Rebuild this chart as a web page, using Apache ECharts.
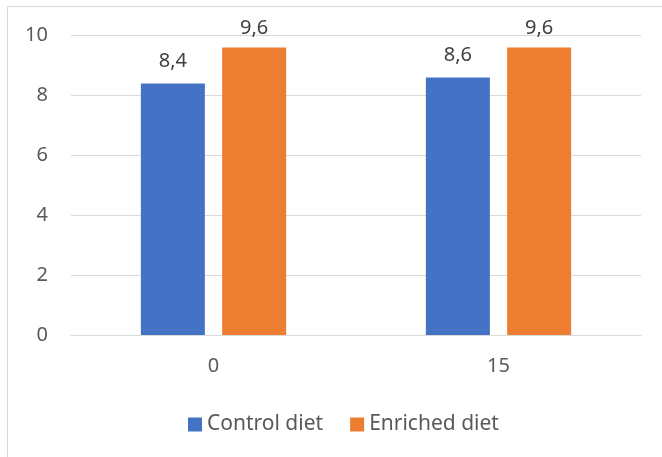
<!DOCTYPE html>
<html>
<head>
<meta charset="utf-8">
<script src="https://cdn.jsdelivr.net/npm/echarts@6/dist/echarts.min.js"></script>
<style>
  html, body { margin: 0; padding: 0; background: #ffffff; }
  #chart { width: 662px; height: 457px; }
</style>
</head>
<body>
<div id="chart"></div>
<script>
// Days on diet (x categories)
const categories = ['0', '15'];
// Series values
const controlDiet = [8.4, 8.6];
const enrichedDiet = [9.6, 9.6];
// Y axis range
const yMin = 0;
const yMax = 10;
const yStep = 2;

const FONT = 'Noto Sans';
const commaFmt = p => String(p.value).replace('.', ',');

const chart = echarts.init(document.getElementById('chart'), null, { renderer: 'canvas' });
chart.setOption({
  backgroundColor: '#ffffff',
  animation: false,
  textStyle: { fontFamily: FONT },
  graphic: [{
    type: 'rect',
    shape: { x: 7.5, y: 6.5, width: 700, height: 500 },
    style: { fill: 'none', stroke: '#d9d9d9', lineWidth: 1 },
    silent: true
  }],
  grid: { left: 71, right: 21, top: 35.5, bottom: 122, containLabel: false },
  legend: {
    bottom: 22,
    left: 188,
    padding: 0,
    itemWidth: 14,
    itemHeight: 14,
    itemGap: 27,
    icon: 'rect',
    textStyle: { fontFamily: FONT, fontSize: 21, color: '#595959' },
    data: ['Control diet', 'Enriched diet']
  },
  xAxis: {
    type: 'category',
    data: categories,
    axisLine: { lineStyle: { color: '#d9d9d9', width: 1 } },
    axisTick: { show: false },
    axisLabel: { fontFamily: FONT, fontSize: 20, color: '#595959', margin: 21 }
  },
  yAxis: {
    type: 'value',
    min: yMin,
    max: yMax,
    interval: yStep,
    axisLine: { show: false },
    axisTick: { show: false },
    splitLine: { lineStyle: { color: '#d9d9d9', width: 1 } },
    axisLabel: { fontFamily: FONT, fontSize: 20, color: '#595959', margin: 23 }
  },
  series: [
    {
      name: 'Control diet',
      type: 'bar',
      data: controlDiet,
      barWidth: 64,
      barGap: '27%',
      itemStyle: { color: '#4472c4' },
      label: { show: true, position: 'top', distance: 12, formatter: commaFmt,
               fontFamily: FONT, fontSize: 20, color: '#404040' }
    },
    {
      name: 'Enriched diet',
      type: 'bar',
      data: enrichedDiet,
      barWidth: 64,
      itemStyle: { color: '#ed7d31' },
      label: { show: true, position: 'top', distance: 9, formatter: commaFmt,
               fontFamily: FONT, fontSize: 20, color: '#404040' }
    }
  ]
});
</script>
</body>
</html>
